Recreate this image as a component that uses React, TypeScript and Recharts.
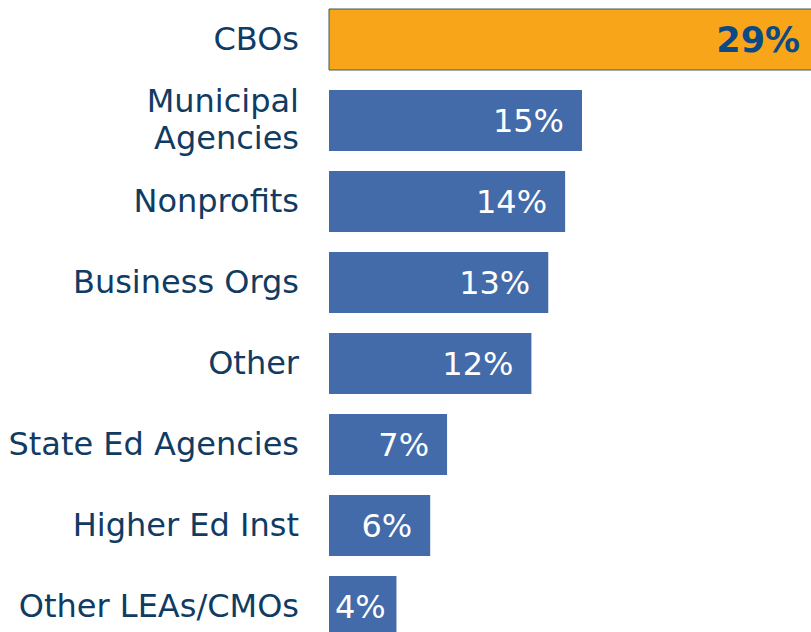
import React from 'react';
import { BarChart, Bar, XAxis, YAxis, Cell, LabelList } from 'recharts';

const categories = [
  'CBOs',
  'Municipal\nAgencies',
  'Nonprofits',
  'Business Orgs',
  'Other',
  'State Ed Agencies',
  'Higher Ed Inst',
  'Other LEAs/CMOs',
];
const shares = [29, 15, 14, 13, 12, 7, 6, 4];
const highlighted = ['CBOs'];

const data = categories.map((name, i) => ({ name, value: shares[i] }));

const FONT = '"DejaVu Sans", Verdana, sans-serif';
const LABEL_COLOR = '#103b63';
const BLUE = '#436ba9';
const ORANGE = '#f9a51a';
const FONT_SIZE = 32;

const CategoryTick = (props: any) => {
  const { x, y, payload } = props;
  const lines = String(payload.value).split('\n');
  const lineHeight = 37;
  const start = -((lines.length - 1) * lineHeight) / 2;
  return (
    <text
      x={x}
      y={y}
      textAnchor="end"
      fill={LABEL_COLOR}
      fontSize={FONT_SIZE}
      fontFamily={FONT}
    >
      {lines.map((line, i) => (
        <tspan key={i} x={x} dy={i === 0 ? start + 10 : lineHeight}>
          {line}
        </tspan>
      ))}
    </text>
  );
};

const ValueLabel = (props: any) => {
  const { x, y, width, height, value, index } = props;
  const isHi = highlighted.includes(categories[index]);
  const text = `${value}%`;
  const textW = FONT_SIZE * (0.636 * (text.length - 1) + 0.95);
  const end = Math.max(x + width - 18, x + 6 + textW);
  return (
    <text
      x={end}
      y={y + height / 2}
      dy={isHi ? 12 : 11}
      textAnchor="end"
      fill={isHi ? '#0b4a84' : '#ffffff'}
      fontSize={isHi ? 35 : FONT_SIZE}
      fontWeight={isHi ? 'bold' : 'normal'}
      fontFamily={FONT}
    >
      {text}
    </text>
  );
};

export default function App() {
  return (
    <div
      style={{
        position: 'fixed',
        left: 0,
        top: 0,
        width: 811,
        height: 632,
        overflow: 'hidden',
        background: '#fff',
      }}
    >
      <div style={{ position: 'absolute', left: 0, top: -1.3 }}>
        <BarChart
          width={835}
          height={648}
          data={data}
          layout="vertical"
          margin={{ top: 0, right: 0, bottom: 0, left: 0 }}
          barSize={61}
        >
          <XAxis type="number" domain={[0, 30]} hide />
          <YAxis
            type="category"
            dataKey="name"
            width={329}
            axisLine={false}
            tickLine={false}
            tickSize={0}
            tickMargin={30}
            interval={0}
            tick={<CategoryTick />}
          />
          <Bar dataKey="value" isAnimationActive={false}>
            {data.map((d, i) => (
              <Cell
                key={`cell-${i}`}
                fill={highlighted.includes(d.name) ? ORANGE : BLUE}
                stroke={highlighted.includes(d.name) ? '#3f5a58' : 'none'}
                strokeWidth={1}
              />
            ))}
            <LabelList dataKey="value" content={<ValueLabel />} />
          </Bar>
        </BarChart>
      </div>
    </div>
  );
}
